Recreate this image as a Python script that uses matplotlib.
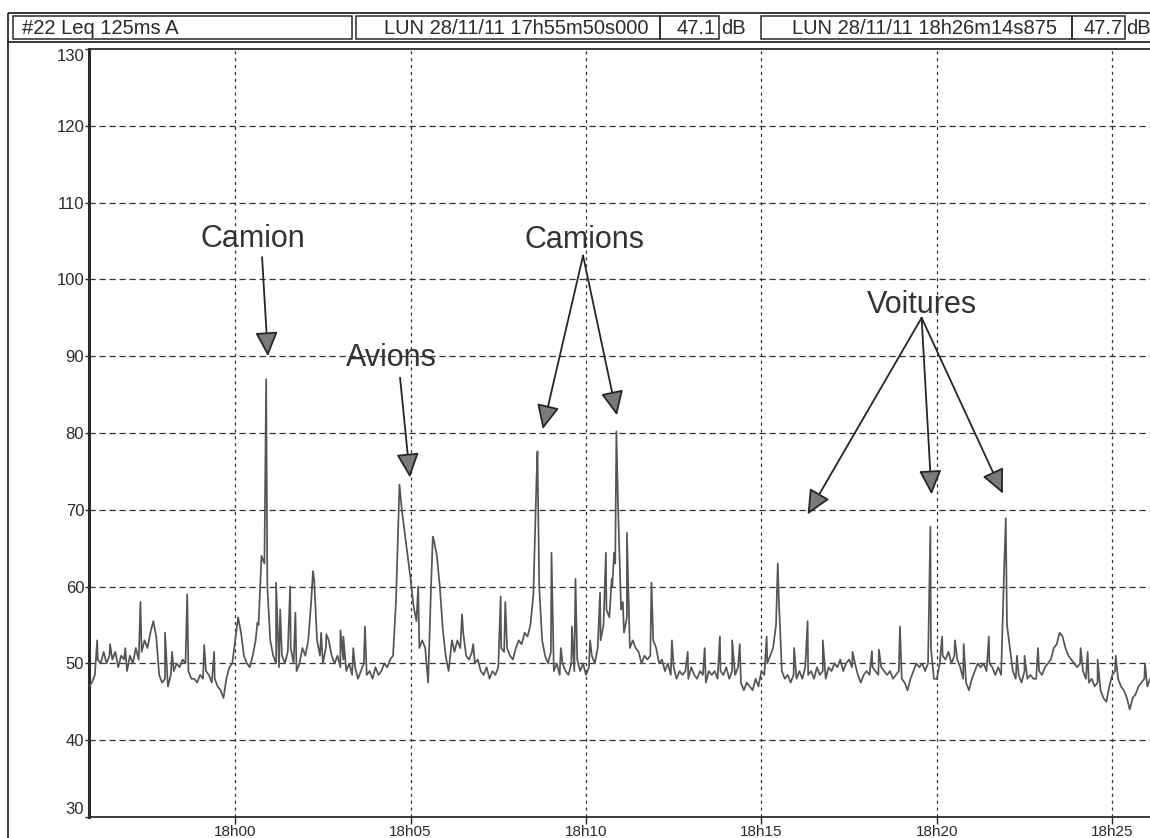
import numpy as np
import matplotlib
matplotlib.use("Agg")
import matplotlib.pyplot as plt
from matplotlib.patches import Rectangle

plt.rcParams['font.family'] = ['Liberation Sans', 'DejaVu Sans']

# Leq 125ms A, lu toutes les 5 s a partir de 17h55m50s (temps en s par rapport a 18h00)
start_s = -250
step_s = 5
level_db = [
    47, 47.5, 48.5, 50.5, 50, 51.5, 50, 51, 50.5, 51.5, 49.5, 51,
    50.5, 49, 51, 50, 52, 50.5, 51.5, 53, 52, 54, 55.5, 53.5,
    48.5, 47.5, 48, 47, 48.5, 49, 50, 49.5, 50.5, 50, 49, 48,
    48, 47.5, 48.5, 48, 49, 48.5, 47.5, 48, 47, 46.5, 45.5, 48,
    49.5, 50, 53, 56, 54, 51, 50, 49.5, 51, 53, 55, 64,
    63, 60, 53, 51, 50, 49.5, 51, 50, 51.5, 52, 50, 49,
    50, 52, 51, 53, 58, 61, 53, 51, 50, 52, 53, 51,
    50, 51, 49.5, 50.5, 49, 50, 48.5, 49.5, 48, 49, 50, 48.5,
    49, 48, 49.5, 48.5, 49, 50, 49.5, 50.5, 51, 58, 71, 70,
    67, 64, 61, 57.5, 55.5, 52, 53, 52, 47.5, 60, 66, 64,
    60, 54.5, 51, 49, 52.5, 51.5, 53, 52, 54, 51, 50.5, 51.5,
    50, 50.5, 49, 48.5, 49.5, 48, 49, 48.5, 49.5, 52, 51.5, 52,
    51, 50.5, 52, 53, 52.5, 54, 53.5, 55, 59, 73, 60, 53,
    51, 50, 51.5, 49, 50, 48.5, 50, 49, 48.5, 50, 49, 50.5,
    49, 50, 48.5, 49.5, 51, 50, 52, 53, 55, 57, 56, 60,
    63, 70, 57, 54, 56, 52, 53, 52, 51.5, 50, 51, 50.5,
    51, 53, 52, 50, 50.5, 49, 50, 48.5, 49.5, 48, 49, 48.5,
    49, 48, 49.5, 48.5, 48, 49, 48.5, 47.5, 49, 48.5, 49, 48,
    49, 48.5, 49.5, 48, 49, 48.5, 49.5, 47.5, 46.5, 47.5, 47, 46.5,
    48, 47, 49, 48.5, 50, 51, 52, 55, 58, 49, 48, 48.5,
    47.5, 48.5, 48, 49, 48, 49.5, 48.5, 49, 48, 49.5, 48.5, 49,
    48, 49.5, 49, 50, 49.5, 50.5, 49, 50, 50.5, 49.5, 50, 48.5,
    47.5, 48.5, 49, 48.5, 49.5, 49, 48.5, 49.5, 49, 48.5, 49, 48,
    48.5, 49, 48, 47.5, 46.5, 48, 49, 50, 49.5, 50, 49, 50,
    52, 48, 48, 50, 51, 50.5, 51.5, 50, 51, 50.5, 49.5, 48,
    47.5, 46.5, 48, 49, 50, 49.5, 50, 49, 50, 49.5, 48.5, 49.5,
    48.5, 62, 55, 52, 49, 48, 48.5, 47.5, 49, 48, 48.5, 48,
    48, 49, 48.5, 49.5, 50, 50.5, 52, 52.5, 54, 53.5, 52, 51,
    50.5, 50, 49.5, 50, 49, 48, 47.5, 48, 47, 47.5, 46.5, 45.5,
    45, 47, 48.5, 49, 48, 47, 46.5, 45.5, 44, 45.5, 46, 47,
    47.5, 48, 47, 48, 47.5, 48,
]

# pics courts (s, dB)
spike_s = [-236, -214, -188, -162, -120, -108, -82, -53, -36, 38, 53, 70, 77, 94, 103,
           133, 147, 156, 180, 185, 202, 222, 281, 313, 338, 371, 388, 407, 454, 462,
           517, 541, 557, 576, 582, 607, 624, 634, 644, 648, 652, 663, 670, 712, 747,
           774, 803, 829, 850, 863, 909, 928, 956, 979, 1005, 1056, 1089, 1101, 1137,
           1189, 1209, 1231, 1246, 1289, 1318, 1337, 1350, 1373, 1446, 1458, 1475,
           1506, 1556]
spike_db = [53, 52.5, 52, 58, 54, 51.5, 59, 52.4, 51.5, 55.3, 87, 60.5, 57, 60, 56.6,
            62, 54, 53.8, 54.3, 53.5, 52, 54.8, 73.3, 60, 66.5, 53, 56.4, 52.5, 58.7, 58,
            77.6, 64.4, 52, 54.8, 61, 53, 59.2, 64.4, 61, 64.4, 80.2, 58, 67, 60.5, 53,
            51.5, 52, 53.5, 53, 52.5, 53.5, 63, 52, 55.5, 53, 51.5, 51.6, 51.8, 54.8,
            67.8, 53.5, 53, 52.5, 53.5, 68.9, 51, 51, 52, 52, 51.5, 50.5,
            51, 50]

end_s = 1574.875
tick_s = [0, 300, 600, 900, 1200, 1500]
tick_labels = ['18h00', '18h05', '18h10', '18h15', '18h20', '18h25']
y_ticks = [30, 40, 50, 60, 70, 80, 90, 100, 110, 120, 130]

# annotations: texte, position du texte, depart des fleches, pointes
notes = [
    ('Camion', (31, 105.2), (46, 102.9), [(56, 90.0)]),
    ('Avions', (267, 89.8), (282, 87.2), [(299, 74.2)]),
    ('Camions', (597, 105.1), (595, 103.1), [(526, 80.5), (653, 82.3)]),
    ('Voitures', (1174, 96.7), (1174, 95.0), [(979, 69.4), (1191, 72.0), (1313, 72.1)]),
]

header_left = '#22 Leq 125ms A'
t_first = 'LUN 28/11/11 17h55m50s000'
leq_first = '47.1'
t_last = 'LUN 28/11/11 18h26m14s875'
leq_last = '47.7'

W, H = 1150, 838
fig = plt.figure(figsize=(W / 100, H / 100), dpi=100)
fig.patch.set_facecolor('white')

# cadre et en-tete, en pixels
deco = fig.add_axes([0, 0, 1, 1])
deco.set_xlim(0, W)
deco.set_ylim(H, 0)
deco.axis('off')
ink = '#2a2a2a'
deco.add_patch(Rectangle((8, 13), 1146, 29, fill=False, ec=ink, lw=1.3))
deco.plot([8, 8], [42, H], color=ink, lw=1.3)
for x0, x1 in [(13, 352), (356, 660), (660, 719), (761, 1072), (1072, 1125)]:
    deco.add_patch(Rectangle((x0, 16), x1 - x0, 23, fill=False, ec=ink, lw=1.1))
hfs = 14.5
deco.text(22, 28, header_left, fontsize=hfs, color=ink, va='center', ha='left')
deco.text(516, 28, t_first, fontsize=hfs, color=ink, va='center', ha='center')
deco.text(716, 28, leq_first, fontsize=hfs, color=ink, va='center', ha='right')
deco.text(721, 28, 'dB', fontsize=hfs, color=ink, va='center', ha='left')
deco.text(925, 28, t_last, fontsize=hfs, color=ink, va='center', ha='center')
deco.text(1123, 28, leq_last, fontsize=hfs, color=ink, va='center', ha='right')
deco.text(1126, 28, 'dB', fontsize=hfs, color=ink, va='center', ha='left')

# zone du graphe
ax = fig.add_axes([89 / W, 1 - 817 / H, (1156 - 89) / W, (817 - 49) / H])
ax.set_facecolor('none')

t_base = start_s + step_s * np.arange(len(level_db))
t_all = np.concatenate([t_base, np.array(spike_s, dtype=float)])
v_all = np.concatenate([np.array(level_db, dtype=float), np.array(spike_db, dtype=float)])
order = np.argsort(t_all, kind='stable')
ax.plot(t_all[order], v_all[order], color='#555555', lw=1.25, zorder=3)

ax.set_xlim(start_s, end_s)
ax.set_ylim(30, 130)
ax.set_xticks(tick_s)
ax.set_xticklabels(tick_labels)
ax.set_yticks(y_ticks)
ax.set_yticklabels([str(v) for v in y_ticks])

for v in y_ticks[1:-1]:
    ax.axhline(v, color='#333333', lw=0.9, ls=(0, (5, 3)), zorder=1)
for t in tick_s:
    ax.axvline(t, color='#333333', lw=0.9, ls=(0, (2.5, 3)), zorder=1)

ax.spines['left'].set_linewidth(2.2)
ax.spines['left'].set_color(ink)
ax.spines['bottom'].set_linewidth(1.3)
ax.spines['bottom'].set_color(ink)
ax.spines['top'].set_linewidth(1.3)
ax.spines['top'].set_color(ink)
ax.spines['right'].set_visible(False)

ax.tick_params(axis='y', direction='out', length=3, width=1, pad=0.5,
               labelsize=12, colors=ink)
ax.tick_params(axis='x', direction='out', length=5, width=1, pad=1,
               labelsize=11, colors=ink)
ylabs = ax.get_yticklabels()
ylabs[0].set_va('bottom')
ylabs[-1].set_va('top')

arrow_kw = dict(arrowstyle='-|>,head_length=0.75,head_width=0.35', fc='#7a7a7a',
                ec='#262626', lw=1.3, shrinkA=0, shrinkB=0, mutation_scale=20)
for label, txt_xy, tail, tips in notes:
    ax.text(txt_xy[0], txt_xy[1], label, fontsize=22, color='#333333',
            ha='center', va='center')
    for tip in tips:
        ax.annotate('', xy=tip, xytext=tail, arrowprops=arrow_kw,
                    annotation_clip=False)

fig.savefig('out.png', dpi=100)
